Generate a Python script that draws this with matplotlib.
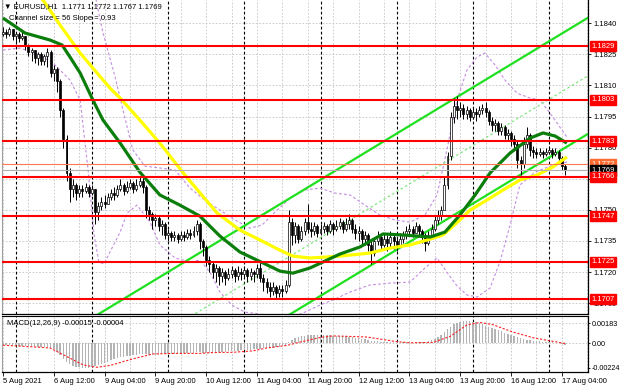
import matplotlib.pyplot as plt
import numpy as np

plt.rcParams['font.family'] = ['Liberation Sans', 'DejaVu Sans']
FS = 5.5

# EURUSD H1 candles, prices in pips above 1.1700, bar 0 = 5 Aug 2021 20:00
open0 = 135
close_p = [136, 135, 137, 134, 135, 133, 134, 129, 126, 127, 123, 125, 122, 124, 126, 116,
           118, 112, 98, 84, 68, 60, 62, 58, 60, 59, 61, 58, 60, 49, 52, 54,
           53, 56, 58, 57, 60, 62, 59, 61, 63, 60, 62, 64, 61, 50, 48, 45,
           46, 42, 43, 38, 39, 37, 38, 36, 38, 37, 39, 38, 40, 43, 35, 32,
           26, 24, 20, 22, 18, 20, 17, 19, 21, 18, 20, 19, 21, 18, 20, 19,
           22, 17, 15, 13, 11, 13, 10, 12, 11, 14, 44, 38, 42, 36, 40, 44,
           41, 40, 42, 39, 41, 42, 40, 43, 41, 42, 44, 41, 43, 45, 41, 39,
           40, 36, 38, 33, 29, 35, 37, 33, 36, 34, 37, 35, 33, 36, 38, 40,
           41, 39, 42, 40, 38, 34, 38, 41, 45, 47, 50, 62, 76, 95, 100, 98,
           99, 96, 98, 95, 97, 96, 98, 99, 97, 93, 91, 92, 88, 90, 86, 87,
           84, 82, 74, 72, 82, 86, 79, 78, 77, 78, 77, 78, 79, 77, 78, 75,
           71, 69]
high_p = [138, 137, 138, 137, 136, 136, 136, 134, 130, 128, 127, 126, 126, 125, 128, 127,
          120, 119, 113, 99, 86, 70, 65, 63, 62, 62, 63, 62, 62, 60, 54, 56,
          57, 58, 60, 61, 62, 65, 63, 64, 65, 64, 65, 66, 66, 62, 52, 49,
          48, 47, 45, 44, 41, 40, 40, 39, 40, 40, 41, 41, 42, 45, 44, 36,
          33, 28, 25, 24, 23, 22, 21, 22, 23, 22, 23, 22, 23, 22, 22, 21,
          24, 26, 19, 17, 15, 15, 14, 14, 14, 16, 50, 46, 44, 43, 42, 46,
          53, 44, 44, 43, 43, 44, 43, 45, 44, 45, 46, 45, 46, 48, 46, 43,
          42, 41, 40, 39, 35, 37, 40, 38, 39, 38, 40, 38, 37, 39, 40, 42,
          43, 42, 44, 43, 41, 39, 40, 43, 47, 50, 52, 66, 78, 97, 104, 105,
          102, 101, 100, 99, 99, 99, 100, 101, 102, 98, 95, 94, 93, 92, 91, 89,
          88, 86, 83, 76, 85, 90, 87, 81, 80, 80, 79, 80, 81, 80, 80, 79,
          76, 72]
low_p = [134, 133, 134, 132, 131, 131, 132, 127, 124, 122, 121, 120, 120, 120, 119, 114,
         112, 107, 95, 80, 64, 54, 56, 55, 56, 56, 58, 56, 57, 43, 45, 50,
         51, 53, 55, 55, 56, 59, 57, 58, 60, 58, 59, 61, 58, 46, 45, 41,
         42, 40, 38, 36, 35, 35, 35, 34, 35, 35, 36, 36, 37, 38, 31, 28,
         23, 20, 17, 15, 14, 15, 14, 16, 17, 15, 16, 16, 17, 15, 16, 15,
         17, 15, 11, 10, 8, 9, 7, 8, 8, 10, 13, 33, 34, 34, 35, 38,
         39, 37, 38, 37, 38, 39, 38, 39, 38, 40, 41, 39, 40, 41, 39, 36,
         35, 33, 33, 30, 24, 28, 33, 31, 32, 30, 32, 31, 30, 32, 34, 36,
         38, 37, 39, 38, 34, 30, 33, 37, 40, 43, 45, 50, 60, 74, 92, 94,
         95, 94, 94, 93, 94, 93, 95, 96, 95, 91, 88, 88, 86, 86, 84, 83,
         81, 79, 70, 67, 70, 80, 76, 75, 75, 76, 75, 76, 77, 75, 76, 73,
         69, 67]

# moving averages and bands: (bar, pips above 1.1700)
green_bar = [0, 6.9, 14.8, 18.6, 21.1, 24.3, 28.3, 31.5, 36.9, 43.1, 49.4, 55.7, 62.0, 68.3,
             74.6, 81.9, 87.2, 91.3, 96.7, 100.8, 106.1, 112.4, 119.7, 126.0, 134.5, 139.2,
             143.9, 148.7, 153.4, 159.7, 166.0, 170.1, 173.9, 177.6]
green_val = [142.5, 135.3, 131.9, 129.5, 123.7, 116.0, 103.0, 93.3, 82.2, 68.2, 57.2, 52.3, 47.0,
             37.4, 29.7, 24.4, 20.5, 19.5, 22.0, 24.9, 28.7, 32.1, 38.4, 37.9, 36.9, 39.3, 47.5,
             57.2, 67.8, 77.4, 84.6, 87.1, 85.6, 82.2]
yellow_bar = [10.1, 12.6, 18.0, 24.3, 33.7, 36.9, 43.1, 49.4, 57.3, 67.4, 74.6, 80.9, 87.2, 91.3,
              96.7, 106.1, 115.6, 121.9, 128.2, 134.5, 138.6, 143.9, 147.1, 152.4, 157.5, 162.8,
              168.2, 173.2, 177.6]
yellow_val = [154.2, 151.2, 139.1, 125.6, 108.7, 103.9, 93.3, 82.2, 66.8, 48.5, 40.3, 35.5, 30.6,
              27.7, 26.8, 27.7, 29.2, 31.6, 33.1, 35.9, 37.9, 45.1, 49.9, 54.7, 59.6, 64.4, 66.8,
              70.7, 75.5]
band_up_bar = [29.0, 31.5, 35.3, 37.8, 40.9, 44.7, 49.4, 54.2, 58.9, 63.6, 68.3, 73.1, 77.8, 81.6,
               85.7, 90.4, 95.1, 99.8, 104.6, 109.3, 114.0, 118.7, 123.5, 128.2, 132.9, 136.7,
               139.8, 143.0, 146.1, 149.3, 151.8, 155.0, 158.1, 161.9, 166.0, 169.1, 173.2, 177.6]
band_up_val = [153.6, 135.3, 114.1, 98.1, 78.9, 71.1, 70.2, 69.2, 60.5, 54.7, 49.9, 45.1, 41.2,
               42.7, 49.0, 55.7, 59.6, 60.5, 58.1, 57.2, 52.3, 47.5, 45.1, 44.1, 47.5, 57.2, 78.9,
               103.0, 117.4, 123.7, 125.6, 119.8, 112.6, 106.3, 103.9, 103.0, 94.8, 85.1]
band_lo_bar = [0, 5.4, 11.7, 16.4, 21.1, 24.3, 26.8, 28.7, 30.2, 31.8, 33.7, 36.9, 39.1, 42.2,
               46.3, 49.4, 54.2, 58.9, 62.0, 65.2, 68.3, 72.1, 76.2, 80.9, 85.7, 90.4, 95.1, 99.8,
               104.6, 109.3, 115.6, 121.9, 128.2, 132.9, 136.7, 139.8, 143.0, 146.1, 149.3, 153.4,
               156.5, 159.7, 162.8, 167.6, 172.3, 177.6]
band_lo_val = [127.1, 128.0, 124.7, 119.8, 112.6, 103.0, 69.2, 37.9, 24.9, 23.9, 29.7, 39.3, 48.5,
               52.3, 44.1, 33.1, 26.8, 24.9, 25.8, 20.0, 10.4, 4.1, 0.7, -0.2, -2.1, -2.1, 0.7, 4.1,
               7.0, 10.4, 13.8, 14.7, 15.2, 22.0, 26.8, 20.0, 13.3, 9.0, 8.0, 12.3, 24.9, 42.7,
               62.0, 68.2, 71.1, 73.1]

# equidistant channel (upper line anchors), size 56 pips
chan_bar = [29.6, 184.3]
chan_top = [1.16993, 1.18427]
chan_size = 0.0056

levels = [1.1829, 1.1803, 1.1783, 1.1766, 1.1747, 1.1725, 1.1707]
ask, bid = 1.1772, 1.1769

# MACD main (histogram) in 1e-5 units, one per bar
macd_hist = [-15, -16, -18, -20, -22, -24, -25, -26, -28, -30, -32, -33, -34, -36, -40, -48,
             -55, -80, -110, -145, -175, -195, -210, -218, -222, -225, -226, -224, -220, -212, -202, -192,
             -182, -170, -158, -148, -140, -132, -125, -120, -115, -110, -106, -102, -100, -103, -106, -108,
             -108, -106, -104, -102, -100, -98, -97, -96, -95, -94, -92, -90, -88, -86, -86, -87,
             -88, -88, -86, -84, -82, -80, -78, -76, -74, -72, -70, -67, -64, -62, -60, -58,
             -55, -52, -50, -48, -46, -44, -40, -36, -30, -20, 10, 30, 45, 55, 62, 68,
             72, 74, 75, 75, 74, 73, 72, 70, 68, 66, 64, 62, 60, 57, 54, 50,
             45, 40, 35, 28, 22, 18, 14, 12, 10, 8, 6, 5, 4, 4, 5, 6,
             7, 8, 8, 6, 5, 8, 15, 25, 40, 55, 75, 100, 125, 150, 170, 185,
             195, 200, 202, 200, 195, 188, 180, 170, 160, 150, 140, 130, 118, 106, 95, 85,
             75, 65, 55, 45, 38, 32, 26, 22, 18, 15, 12, 10, 8, 5, 2, -2,
             -8, -15]
sig_bar = [0, 9.4, 14.8, 20.2, 25.2, 29.6, 33.7, 40.9, 47.2, 53.5, 62.0, 66.1, 72.4, 78.7, 83.1,
           89.4, 93.5, 99.8, 103.9, 114.6, 124.1, 128.2, 135.4, 140.8, 146.1, 150.2, 154.3, 160.6,
           166.9, 172.3, 177]
sig_val = [-20, -35, -45, -125, -200, -222, -205, -145, -100, -95, -95, -87, -85, -72, -45,
           -22, 8, 50, 65, 55, 12, 2, 5, 60, 165, 188, 168, 100, 49, 20, -4]

date_ticks = list(range(0, 177, 16))
date_labels = ['5 Aug 2021', '6 Aug 12:00', '9 Aug 04:00', '9 Aug 20:00', '10 Aug 12:00',
               '11 Aug 04:00', '11 Aug 20:00', '12 Aug 12:00', '13 Aug 04:00', '13 Aug 20:00',
               '16 Aug 12:00', '17 Aug 04:00']
day_seps = list(range(4, 177, 24))
price_ticks = [1.1840, 1.1825, 1.1810, 1.1795, 1.1780, 1.1765, 1.1750, 1.1735, 1.1720, 1.1705]

W, H = 620, 388
fig = plt.figure(figsize=(W / 100, H / 100), dpi=100)
ax = fig.add_axes([2 / W, 1 - 314 / H, 586 / W, 314 / H])
mx = fig.add_axes([2 / W, 1 - 372 / H, 586 / W, 56 / H], sharex=ax)

XL = (-0.315, 184.25)
grid_kw = dict(color='#c4c4c4', lw=0.6, ls=(0, (2, 2)), zorder=0.5)
sep_kw = dict(color='black', lw=0.8, ls=(0, (2.5, 2)), zorder=0.8)
for a in (ax, mx):
    for b in range(0, 185, 8):
        a.axvline(b, **grid_kw)
    for b in day_seps:
        a.axvline(b, **sep_kw)
    a.set_facecolor('white')
    a.spines['top'].set_visible(False)
    a.spines['left'].set_color('#a0a0a0')
    for s in ('right', 'bottom'):
        a.spines[s].set_color('black')
        a.spines[s].set_linewidth(0.9)
mx.spines['top'].set_visible(True)
mx.spines['top'].set_color('black')

for p in price_ticks:
    ax.axhline(p, **grid_kw)

# candles
c = 1.17 + np.array(close_p) / 1e4
o = 1.17 + np.array([open0] + close_p[:-1]) / 1e4
hi = 1.17 + np.array(high_p) / 1e4
lo = 1.17 + np.array(low_p) / 1e4
x = np.arange(len(c))
up = c >= o
ax.vlines(x, lo, hi, color='black', lw=0.7, zorder=3)
ax.bar(x[up], np.maximum(c - o, 0.00002)[up], bottom=o[up], width=0.62, color='white',
       edgecolor='black', linewidth=0.5, zorder=3.1)
ax.bar(x[~up], (o - c)[~up], bottom=c[~up], width=0.62, color='black',
       edgecolor='black', linewidth=0.5, zorder=3.1)

# bands
band_kw = dict(color='#c58de0', lw=0.8, ls=(0, (2.5, 2)), zorder=1.5)
ax.plot(band_up_bar, 1.17 + np.array(band_up_val) / 1e4, **band_kw)
ax.plot(band_lo_bar, 1.17 + np.array(band_lo_val) / 1e4, **band_kw)

# channel
top = np.array(chan_top)
ax.plot(chan_bar, top, color='#1fe01f', lw=1.6, zorder=2)
ax.plot(chan_bar, top - chan_size, color='#1fe01f', lw=1.6, zorder=2)
ax.plot(chan_bar, top - chan_size / 2, color='#80e880', lw=0.9, ls=(0, (2, 2)), zorder=2)

# MAs
ax.plot(yellow_bar, 1.17 + np.array(yellow_val) / 1e4, color='#ffff00', lw=2.3, zorder=4,
        solid_capstyle='butt')
ax.plot(green_bar, 1.17 + np.array(green_val) / 1e4, color='#0b7d0b', lw=2.3, zorder=4.1,
        solid_capstyle='butt')

# levels
for lv in levels:
    ax.axhline(lv, color='#ff0000', lw=1.5, zorder=5)
ax.axhline(ask, color='#ff7a50', lw=0.8, zorder=4.5)
ax.axhline(bid, color='#b0b0b0', lw=0.8, zorder=4.5)

ax.set_xlim(*XL)
ax.set_ylim(1.16998, 1.18512)
ax.yaxis.tick_right()
ax.set_yticks(price_ticks)
ax.set_yticklabels([f'{p:.4f}' for p in price_ticks])
ax.tick_params(axis='y', labelsize=FS, length=2, pad=2, width=0.6)
ax.tick_params(axis='x', bottom=False, labelbottom=False)


def price_box(y, txt, fc, z):
    ax.annotate(txt, xy=(1, y), xycoords=('axes fraction', 'data'), xytext=(2.2, 0),
                textcoords='offset points', va='center', ha='left', fontsize=FS, color='white',
                bbox=dict(boxstyle='square,pad=0.2', fc=fc, ec=fc), zorder=z,
                annotation_clip=False)


price_box(ask, f'{ask:.4f}', '#ff6a30', 6)
price_box(bid, f'{bid:.4f}', 'black', 6.1)
for lv in levels:
    price_box(lv, f'{lv:.4f}', '#ff0000', 6.2)

# MACD
mx.bar(x, np.array(macd_hist) * 1e-5, width=0.45, color='#b4b4b4', zorder=2)
mx.plot(sig_bar, np.array(sig_val) * 1e-5, color='#ff2020', lw=0.8, ls=(0, (2, 1.5)), zorder=3)
for v in (0.00183, 0.0):
    mx.axhline(v, **grid_kw)
mx.set_ylim(-0.00265, 0.00247)
mx.yaxis.tick_right()
mx.set_yticks([0.00183, 0.0, -0.00224])
mx.set_yticklabels(['0.00183', '0.00', '-0.00224'])
mx.tick_params(axis='y', labelsize=5.2, length=1.5, pad=1, width=0.6)
mx.set_xticks(date_ticks)
mx.set_xticklabels(date_labels, ha='left')
mx.tick_params(axis='x', labelsize=FS, length=3, pad=1.5, width=0.6)
mx.set_xlim(*XL)
mx.text(5 / 586, 0.86, 'MACD(12,26,9) -0.00015 -0.00004', transform=mx.transAxes,
        fontsize=FS, va='center', ha='left')

fig.text(4 / W, 1 - 7 / H, '\u25bc EURUSD,H1  1.1771 1.1772 1.1767 1.1769', fontsize=FS,
         va='center', ha='left')
fig.text(9 / W, 1 - 19 / H, 'Channel size = 56 Slope = 0.93', fontsize=FS,
         va='center', ha='left')

fig.savefig('out.png', dpi=100)
